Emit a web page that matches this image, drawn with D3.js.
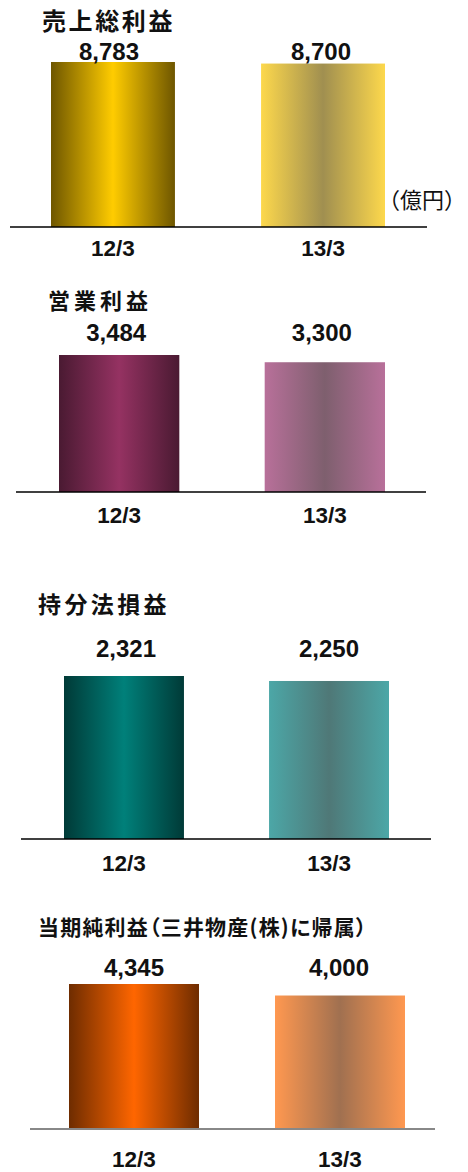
<!DOCTYPE html>
<html>
<head>
<meta charset="utf-8">
<script src="https://cdn.jsdelivr.net/npm/d3@7"></script>
<style>
  html, body { margin: 0; padding: 0; background: #ffffff; }
  svg { display: block; }
</style>
</head>
<body>
<svg id="chart" width="468" height="1172"></svg>
<script>
// ---- data ----
const categories = ["12/3", "13/3"];
const titles = ["売上総利益", "営業利益", "持分法損益", "当期純利益（三井物産(株)に帰属）"];
const unitLabel = "（億円）";
const grossProfit = [8783, 8700];
const operatingIncome = [3484, 3300];
const equityIncome = [2321, 2250];
const netIncome = [4345, 4000];
const seriesList = [grossProfit, operatingIncome, equityIncome, netIncome];

// ---- styles / layout ----
const barColors = [
  [{edge: "#6e5600", mid: "#ffcc00"}, {edge: "#fdd84c", mid: "#a08f50"}],
  [{edge: "#4a1a32", mid: "#953262"}, {edge: "#b8709a", mid: "#7e5f6e"}],
  [{edge: "#003a37", mid: "#00807a"}, {edge: "#4ca7a7", mid: "#4f7877"}],
  [{edge: "#6e2c00", mid: "#ff6600"}, {edge: "#ff9850", mid: "#a07050"}]
];
const layout = [
  {base: 227, h: 165, x0: 51, x1: 385, pad: 0.41, axisX: [10, 427], axisColor: "#000", axisW: 1.5,
   title: {x: 42, y: 30, size: 24, ls: 2.6, palt: false}, valY: 2, valDx: [-4, -2], catDy: 29},
  {base: 492, h: 137, x0: 59, x1: 385, pad: 0.415, axisX: [16, 426], axisColor: "#000", axisW: 1.5,
   title: {x: 48, y: 309, size: 22, ls: 4, palt: false}, valY: 14, valDx: [-3, -3], catDy: 31},
  {base: 839, h: 163, x0: 64, x1: 389, pad: 0.415, axisX: [21, 431], axisColor: "#000", axisW: 1.5,
   title: {x: 38, y: 613, size: 23, ls: 3.4, palt: false}, valY: 19, valDx: [2, 0], catDy: 32},
  {base: 1129, h: 145, x0: 69, x1: 405, pad: 0.369, axisX: [30, 435], axisColor: "#888", axisW: 2,
   title: {x: 38, y: 935, size: 21, ls: 1.2, palt: true}, valY: 8.5, valDx: [0, -1], catDy: 38}
];

const svg = d3.select("#chart");
const defs = svg.append("defs");
const numFont = "'Liberation Sans', Arial, sans-serif";
const cjkFont = "'Noto Sans CJK JP', 'Noto Sans', sans-serif";

seriesList.forEach((values, pi) => {
  const L = layout[pi];
  const g = svg.append("g");
  const x = d3.scaleBand().domain(categories).range([L.x0, L.x1]).paddingInner(L.pad).paddingOuter(0);
  const maxV = d3.max(values);
  const y = d3.scaleLinear().domain([0, maxV]).range([L.base, L.base - L.h]);

  // gradients
  categories.forEach((c, ci) => {
    const col = barColors[pi][ci];
    const gr = defs.append("linearGradient").attr("id", `g${pi}_${ci}`)
      .attr("x1", "0%").attr("x2", "100%").attr("y1", "0%").attr("y2", "0%");
    gr.append("stop").attr("offset", "0%").attr("stop-color", col.edge);
    gr.append("stop").attr("offset", "50%").attr("stop-color", col.mid);
    gr.append("stop").attr("offset", "100%").attr("stop-color", col.edge);
  });

  // title
  g.append("text")
    .attr("x", L.title.x).attr("y", L.title.y)
    .attr("font-family", cjkFont).attr("font-weight", "bold")
    .attr("font-size", L.title.size).attr("letter-spacing", L.title.ls)
    .style("font-feature-settings", L.title.palt ? "'palt' 1" : "normal")
    .attr("fill", "#111")
    .text(titles[pi]);

  // bars
  g.selectAll("rect.bar").data(values).enter().append("rect")
    .attr("class", "bar")
    .attr("x", (d, i) => x(categories[i]))
    .attr("width", x.bandwidth())
    .attr("y", d => y(d))
    .attr("height", d => y(0) - y(d))
    .attr("fill", (d, i) => `url(#g${pi}_${i})`);

  // axis line
  g.append("line")
    .attr("x1", L.axisX[0]).attr("x2", L.axisX[1])
    .attr("y1", y(0)).attr("y2", y(0))
    .attr("stroke", L.axisColor).attr("stroke-width", L.axisW);

  // value labels
  const fmt = d3.format(",");
  g.selectAll("text.val").data(values).enter().append("text")
    .attr("class", "val")
    .attr("x", (d, i) => x(categories[i]) + x.bandwidth() / 2 + L.valDx[i])
    .attr("y", y(maxV) - L.valY)
    .attr("text-anchor", "middle")
    .attr("font-family", numFont).attr("font-weight", "bold")
    .attr("font-size", 24).attr("fill", "#111")
    .text(d => fmt(d));

  // category labels
  g.selectAll("text.cat").data(categories).enter().append("text")
    .attr("class", "cat")
    .attr("x", c => x(c) + x.bandwidth() / 2)
    .attr("y", y(0) + L.catDy)
    .attr("text-anchor", "middle")
    .attr("font-family", numFont).attr("font-weight", "bold")
    .attr("font-size", 22.5).attr("fill", "#111")
    .text(c => c);

  if (pi === 0) {
    g.append("text")
      .attr("x", 378).attr("y", 208)
      .attr("font-family", cjkFont)
      .attr("font-size", 22).attr("fill", "#111")
      .text(unitLabel);
  }
});
</script>
</body>
</html>
